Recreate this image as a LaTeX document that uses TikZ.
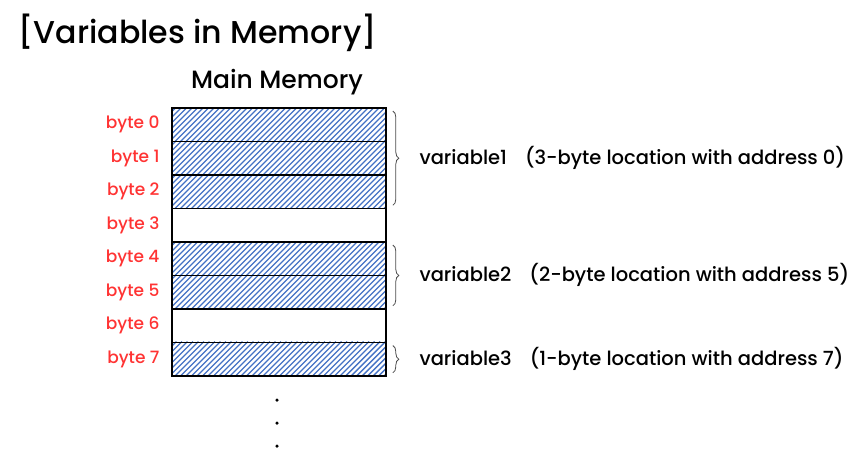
\documentclass[tikz,border=0pt]{standalone}
\usepackage{fontspec}
\setmainfont{Poppins Medium}
\usetikzlibrary{decorations.pathreplacing}
\definecolor{hatchblue}{HTML}{4472C4}
\definecolor{bytered}{HTML}{FF3333}
\tikzset{
  MemCell/.style = {draw = black, line width = 1.8pt, minimum width = 214pt, minimum height = 33.5pt, inner sep = 0pt, anchor = north west},
  Hatch/.style = {draw = hatchblue, line width = 1.4pt},
  ByteLabel/.style = {anchor = east, text = bytered, font = \fontsize{17}{20}\selectfont},
  VarBrace/.style = {draw = black!70, line width = 0.8pt, decorate, decoration = {brace, amplitude = 6pt}},
  VarLabel/.style = {anchor = west, font = \fontsize{19.5}{22}\selectfont},
  Dot/.style = {circle, fill = black, inner sep = 0pt, minimum size = 3.5pt}
}
\begin{document}
\begin{tikzpicture}[x=1pt, y=-1pt]
  \useasboundingbox (0,0) rectangle (867,463);
  \node [anchor = west, font = \fontsize{31.6}{36}\selectfont] (title) at (15,33) {[Variables in Memory]};
  \node [font = \fontsize{25}{28}\selectfont] (head) at (277,82) {Main Memory};
  % hatching of the used bytes
  \foreach \i in {0,1,2,4,5,7}{
    \begin{scope}
      \clip (171, 107 + 33.5*\i) rectangle +(214, 33.5);
      \foreach \k in {-40,-34.5,...,220}
        \draw [Hatch] (171 + \k, 107 + 33.5*\i + 40) -- +(40, -40);
    \end{scope}
  }
  % memory rows
  \foreach \i in {0,...,7}{
    \node [MemCell] (m\i) at (171, 107 + 33.5*\i) {};
    \node [ByteLabel] (b\i) at ([xshift=-8pt]m\i.west) {byte \i};
  }
  % variables
  \draw [VarBrace] ([xshift=6pt, yshift=-4pt]m0.north east) -- ([xshift=6pt, yshift=4pt]m2.south east)
    node [midway, right = 23pt, VarLabel] (v1) {variable1\hspace{18pt}(3-byte location with address 0)};
  \draw [VarBrace] ([xshift=6pt, yshift=-4pt]m4.north east) -- ([xshift=6pt, yshift=4pt]m5.south east)
    node [midway, right = 23pt, VarLabel] (v2) {variable2\hspace{18pt}(2-byte location with address 5)};
  \draw [VarBrace] ([xshift=6pt, yshift=-4pt]m7.north east) -- ([xshift=6pt, yshift=4pt]m7.south east)
    node [midway, right = 23pt, VarLabel] (v3) {variable3\hspace{18pt}(1-byte location with address 7)};
  % more memory below
  \node [Dot] (d1) at (277,400) {};
  \node [Dot] (d2) at (277,423) {};
  \node [Dot] (d3) at (277,446) {};
\end{tikzpicture}
\end{document}
